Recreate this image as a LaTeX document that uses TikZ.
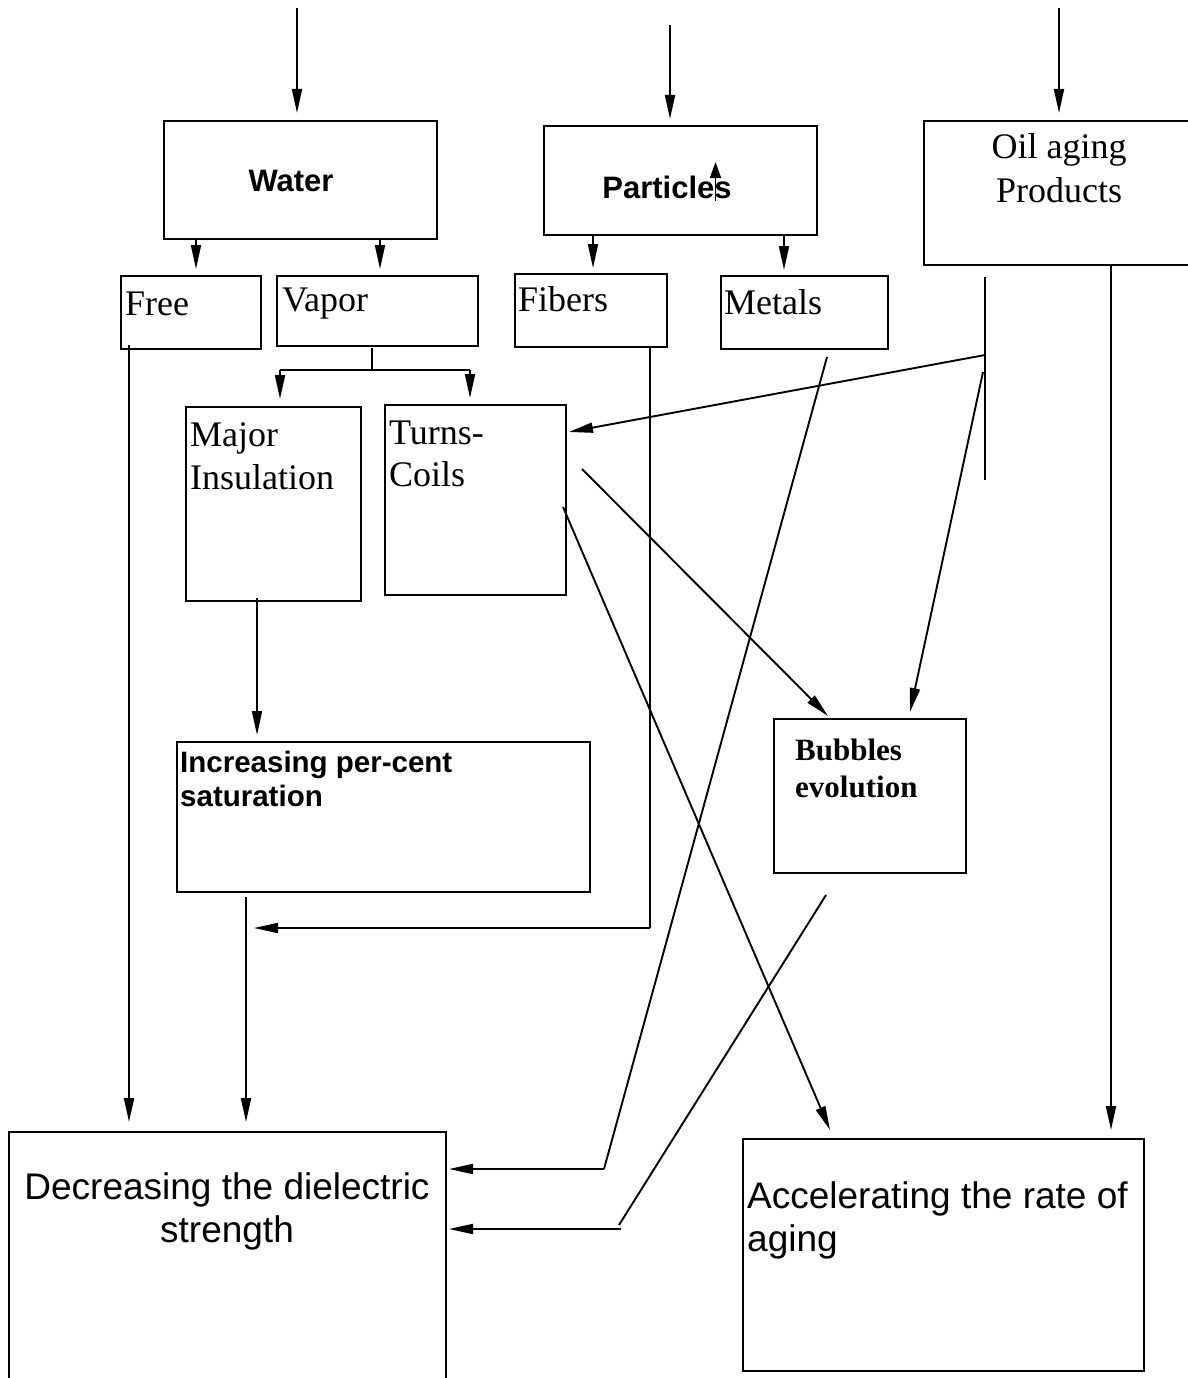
\documentclass[tikz,border=0pt]{standalone}
\usepackage{fontspec}
\setmainfont{Liberation Serif}
\setsansfont{Liberation Sans}
\usetikzlibrary{arrows.meta}
\begin{document}
\begin{tikzpicture}[x=1pt,y=-1pt,
  box/.style={draw,line width=2pt,inner sep=0pt,anchor=north west},
  txt/.style={anchor=base west,inner sep=0pt},
  conn/.style={line width=1.9pt},
  arr/.style={line width=1.9pt,-{Triangle[length=24pt,width=10pt]}},
  serifbig/.style={font=\fontsize{36}{40}\selectfont},
  sansbold/.style={font=\sffamily\bfseries\fontsize{31}{35}\selectfont},
  sansbig/.style={font=\sffamily\fontsize{37}{43}\selectfont}]
\useasboundingbox (0,0) rectangle (1188,1378);
% boxes
\node[box,minimum width=273pt,minimum height=118pt] (water) at (163,120) {};
\node[box,minimum width=273pt,minimum height=109pt] (part) at (543,125) {};
\node[box,minimum width=280pt,minimum height=144pt] (oil) at (923,120) {};
\node[box,minimum width=140pt,minimum height=73pt] (free) at (120,275) {};
\node[box,minimum width=201pt,minimum height=70pt] (vapor) at (276,275) {};
\node[box,minimum width=152pt,minimum height=73pt] (fib) at (514,273) {};
\node[box,minimum width=167pt,minimum height=73pt] (met) at (720,275) {};
\node[box,minimum width=175pt,minimum height=194pt] (major) at (185,406) {};
\node[box,minimum width=181pt,minimum height=190pt] (turns) at (384,404) {};
\node[box,minimum width=413pt,minimum height=150pt] (incr) at (176,741) {};
\node[box,minimum width=192pt,minimum height=154pt] (bub) at (773,718) {};
\node[box,minimum width=437pt,minimum height=260pt] (decr) at (8,1131) {};
\node[box,minimum width=401pt,minimum height=232pt] (acc) at (742,1138) {};
% texts
\node[sansbold,anchor=base] (twater) at (291,191) {Water};
\node[sansbold,anchor=base] (tpart) at (667,198) {Particles};
\node[serifbig,anchor=base] (toil1) at (1059,158) {Oil aging};
\node[serifbig,anchor=base] (toil2) at (1059,202) {Products};
\node[serifbig,txt] (tfree) at (125,315) {Free};
\node[serifbig,txt] (tvapor) at (282,311) {Vapor};
\node[serifbig,txt] (tfib) at (518,311) {Fibers};
\node[serifbig,txt] (tmet) at (724,314) {Metals};
\node[serifbig,txt] (tmaj1) at (190,446) {Major};
\node[serifbig,txt] (tmaj2) at (190,489) {Insulation};
\node[serifbig,txt] (ttur1) at (389,444) {Turns-};
\node[serifbig,txt] (ttur2) at (389,486) {Coils};
\node[txt,font=\sffamily\bfseries\fontsize{29.5}{33}\selectfont] (tinc1) at (180,772) {Increasing per-cent};
\node[txt,font=\sffamily\bfseries\fontsize{29.5}{33}\selectfont] (tinc2) at (180,806) {saturation};
\node[txt,font=\bfseries\fontsize{31}{35}\selectfont] (tbub1) at (795,760) {Bubbles};
\node[txt,font=\bfseries\fontsize{31}{35}\selectfont] (tbub2) at (795,797) {evolution};
\node[sansbig,anchor=base] (tdec1) at (227,1199) {Decreasing the dielectric};
\node[sansbig,anchor=base] (tdec2) at (227,1242) {strength};
\node[sansbig,txt] (tacc1) at (747,1208) {Accelerating the rate of};
\node[sansbig,txt] (tacc2) at (747,1251) {aging};
% coordinates
\coordinate (w0) at (297,8);
\coordinate (p0) at (670,25);
\coordinate (o0) at (1059,8);
\coordinate (pa1) at (715.5,201);
\coordinate (pa2) at (715.5,162);
\coordinate (wf1) at (196,238);
\coordinate (wv1) at (380,238);
\coordinate (pf1) at (593,234);
\coordinate (pm1) at (784,234);
\coordinate (vs1) at (372,348);
\coordinate (vs2) at (372,370);
\coordinate (vsl) at (280,370);
\coordinate (vsr) at (470,370);
\coordinate (mi1) at (257,598);
\coordinate (fr1) at (129,345);
\coordinate (in1) at (246,897);
\coordinate (fb1) at (650,348);
\coordinate (fb2) at (650,928);
\coordinate (fb3) at (254,928);
\coordinate (mt1) at (827,357);
\coordinate (mt2) at (604,1169);
\coordinate (bb1) at (826,895);
\coordinate (bb2) at (619,1225);
\coordinate (bb3) at (621,1229);
\coordinate (ol1) at (1111,265);
\coordinate (ob1) at (985,277);
\coordinate (ob2) at (985,480);
\coordinate (ob3) at (985,355);
\coordinate (ob4) at (983,372);
\coordinate (tc1) at (582,469);
\coordinate (tc2) at (563,507);
% connectors
\draw[arr] (w0) -- ([yshift=7pt]water.north -| w0);
\draw[arr] (p0) -- ([yshift=6pt]part.north -| p0);
\draw[arr] (o0) -- ([yshift=7pt]oil.north -| o0);
\draw[line width=1.5pt,-{Triangle[length=16pt,width=11pt]}] (pa1) -- (pa2);
\draw[arr] (wf1) -- ([yshift=6pt]free.north -| wf1);
\draw[arr] (wv1) -- ([yshift=6pt]vapor.north -| wv1);
\draw[arr] (pf1) -- ([yshift=5pt]fib.north -| pf1);
\draw[arr] (pm1) -- ([yshift=5pt]met.north -| pm1);
\draw[conn] (vs1) -- (vs2);
\draw[conn] (vsl) -- (vsr);
\draw[arr] (vsl) -- ([yshift=7pt]major.north -| vsl);
\draw[arr] (vsr) -- ([yshift=6pt]turns.north -| vsr);
\draw[arr] (mi1) -- ([yshift=6pt]incr.north -| mi1);
\draw[arr] (fr1) -- ([yshift=9pt]decr.north -| fr1);
\draw[arr] (in1) -- ([yshift=9pt]decr.north -| in1);
\draw[conn] (fb1) -- (fb2);
\draw[arr] (fb2) -- (fb3);
\draw[conn] (mt1) -- (mt2);
\draw[arr] (mt2) -- ([xshift=2pt]decr.east |- mt2);
\draw[conn] (bb1) -- (bb2);
\draw[arr] (bb3) -- ([xshift=2pt]decr.east |- bb3);
\draw[arr] (ol1) -- ([yshift=8pt]acc.north -| ol1);
\draw[line width=2.2pt] (ob1) -- (ob2);
\draw[arr] (ob3) -- ([xshift=2pt,yshift=-28pt]turns.north east);
\draw[arr] (ob4) -- ([xshift=137pt,yshift=6pt]bub.north west);
\draw[arr] (tc1) -- ([xshift=55pt,yshift=2pt]bub.north west);
\draw[arr] (tc2) -- ([xshift=88pt,yshift=8pt]acc.north west);
\end{tikzpicture}
\end{document}
